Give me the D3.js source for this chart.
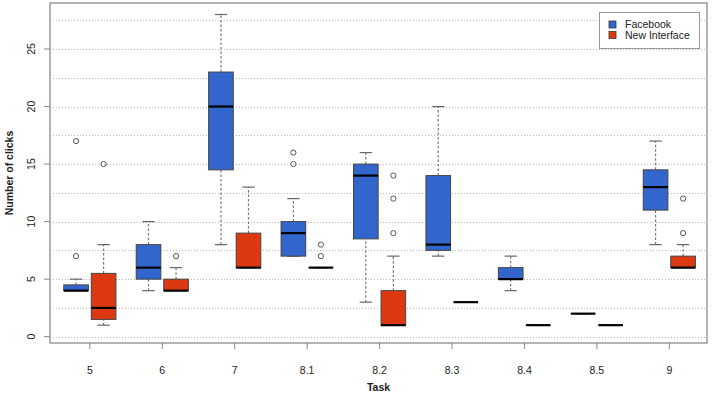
<!DOCTYPE html>
<html>
<head>
<meta charset="utf-8">
<script src="https://d3js.org/d3.v7.min.js"></script>
<style>
  body { margin: 0; background: #fff; }
  text { font-family: "Liberation Sans", Arial, sans-serif; fill: #222; }
</style>
</head>
<body>
<script>
// tasks on the x axis
var tasks = ["5", "6", "7", "8.1", "8.2", "8.3", "8.4", "8.5", "9"];
var seriesNames = ["Facebook", "New Interface"];
var seriesColors = ["#3366cc", "#dc3912"];

// box stats per task: [lower whisker, q1, median, q3, upper whisker]
var facebookStats = [
  [4, 4, 4, 4.5, 5], [4, 5, 6, 8, 10], [8, 14.5, 20, 23, 28],
  [7, 7, 9, 10, 12], [3, 8.5, 14, 15, 16], [7, 7.5, 8, 14, 20],
  [4, 5, 5, 6, 7], [2, 2, 2, 2, 2], [8, 11, 13, 14.5, 17]
];
var facebookOutliers = [[7, 17], [], [], [15, 16], [], [], [], [], []];

var newStats = [
  [1, 1.5, 2.5, 5.5, 8], [4, 4, 4, 5, 6], [6, 6, 6, 9, 13],
  [6, 6, 6, 6, 6], [1, 1, 1, 4, 7], [3, 3, 3, 3, 3],
  [1, 1, 1, 1, 1], [1, 1, 1, 1, 1], [6, 6, 6, 7, 8]
];
var newOutliers = [[15], [7], [], [7, 8], [9, 12, 14], [], [], [], [9, 12]];

var yTicks = [0, 5, 10, 15, 20, 25];
var gridLines = d3.range(0, 28.1, 2.5);

var width = 712, height = 394;
var plot = {left: 50, right: 707, top: 3, bottom: 343};

var svg = d3.select("body").append("svg")
    .attr("width", width)
    .attr("height", height);

// scales
var x = d3.scaleLinear()
    .domain([0.45, 9.52])
    .range([plot.left, plot.right]);

var y = d3.scaleLinear()
    .domain([-0.55, 29.0])
    .range([plot.bottom, plot.top]);

var offset = 0.19, boxW = x(0.34) - x(0);

// dotted grid
svg.append("g")
  .selectAll("line")
  .data(gridLines)
  .enter().append("line")
    .attr("x1", plot.left)
    .attr("x2", plot.right)
    .attr("y1", function(d) { return Math.round(y(d)) + 0.5; })
    .attr("y2", function(d) { return Math.round(y(d)) + 0.5; })
    .attr("stroke", "#b8b8b8")
    .attr("stroke-width", 1)
    .attr("stroke-dasharray", "1,2");

// draw one series of boxes
function drawSeries(stats, outliers, color, shift) {
  var g = svg.append("g");
  stats.forEach(function(s, i) {
    var cx = x(i + 1 + shift);
    var cap = boxW / 2;
    // whiskers
    [[s[3], s[4]], [s[0], s[1]]].forEach(function(w) {
      if (w[0] === w[1]) return;
      g.append("line")
        .attr("x1", cx).attr("x2", cx)
        .attr("y1", y(w[0])).attr("y2", y(w[1]))
        .attr("stroke", "#777")
        .attr("stroke-width", 1.2)
        .attr("stroke-dasharray", "2.5,2");
    });
    // caps
    [s[0], s[4]].forEach(function(v) {
      g.append("line")
        .attr("x1", cx - cap / 2).attr("x2", cx + cap / 2)
        .attr("y1", y(v)).attr("y2", y(v))
        .attr("stroke", "#666")
        .attr("stroke-width", 1.2);
    });
    // box
    g.append("rect")
      .attr("x", cx - boxW / 2)
      .attr("y", y(s[3]))
      .attr("width", boxW)
      .attr("height", y(s[1]) - y(s[3]))
      .attr("fill", color)
      .attr("stroke", "#444")
      .attr("stroke-width", 1);
    // median
    g.append("line")
      .attr("x1", cx - boxW / 2).attr("x2", cx + boxW / 2)
      .attr("y1", y(s[2])).attr("y2", y(s[2]))
      .attr("stroke", "#000")
      .attr("stroke-width", 2.2);
    // outliers
    outliers[i].forEach(function(v) {
      g.append("circle")
        .attr("cx", cx)
        .attr("cy", y(v))
        .attr("r", 2.6)
        .attr("fill", "none")
        .attr("stroke", "#555")
        .attr("stroke-width", 1);
    });
  });
}

drawSeries(facebookStats, facebookOutliers, seriesColors[0], -offset);
drawSeries(newStats, newOutliers, seriesColors[1], offset);

// frame
svg.append("rect")
    .attr("x", plot.left)
    .attr("y", plot.top)
    .attr("width", plot.right - plot.left)
    .attr("height", plot.bottom - plot.top)
    .attr("fill", "none")
    .attr("stroke", "#9a9a9a")
    .attr("stroke-width", 1.5);

// y axis
var yAxis = svg.append("g");
yTicks.forEach(function(t) {
  yAxis.append("line")
    .attr("x1", plot.left - 6).attr("x2", plot.left)
    .attr("y1", y(t)).attr("y2", y(t))
    .attr("stroke", "#888");
  yAxis.append("text")
    .attr("transform", "translate(" + 35 + "," + y(t) + ") rotate(-90)")
    .attr("text-anchor", "middle")
    .attr("font-size", "10.5px")
    .text(t);
});

// x axis
var xAxis = svg.append("g");
tasks.forEach(function(t, i) {
  xAxis.append("line")
    .attr("x1", x(i + 1)).attr("x2", x(i + 1))
    .attr("y1", plot.bottom).attr("y2", plot.bottom + 6)
    .attr("stroke", "#888");
  xAxis.append("text")
    .attr("x", x(i + 1))
    .attr("y", 374)
    .attr("text-anchor", "middle")
    .attr("font-size", "10.5px")
    .text(t);
});

// axis titles
svg.append("text")
    .attr("x", (plot.left + plot.right) / 2)
    .attr("y", 391)
    .attr("text-anchor", "middle")
    .attr("font-size", "10.5px")
    .attr("font-weight", "bold")
    .text("Task");

svg.append("text")
    .attr("transform", "translate(13," + (plot.top + plot.bottom) / 2 + ") rotate(-90)")
    .attr("text-anchor", "middle")
    .attr("font-size", "10.5px")
    .attr("font-weight", "bold")
    .text("Number of clicks");

// legend
var legend = svg.append("g");
legend.append("rect")
    .attr("x", 599.5).attr("y", 12.5)
    .attr("width", 100).attr("height", 36)
    .attr("fill", "#fff")
    .attr("stroke", "#999");

seriesNames.forEach(function(name, i) {
  legend.append("rect")
    .attr("x", 609).attr("y", 21 + i * 10.5)
    .attr("width", 7).attr("height", 7)
    .attr("fill", seriesColors[i])
    .attr("stroke", "#333")
    .attr("stroke-width", 0.8);
  legend.append("text")
    .attr("x", 625)
    .attr("y", 28 + i * 10.5)
    .attr("font-size", "10.5px")
    .text(name);
});
</script>
</body>
</html>
